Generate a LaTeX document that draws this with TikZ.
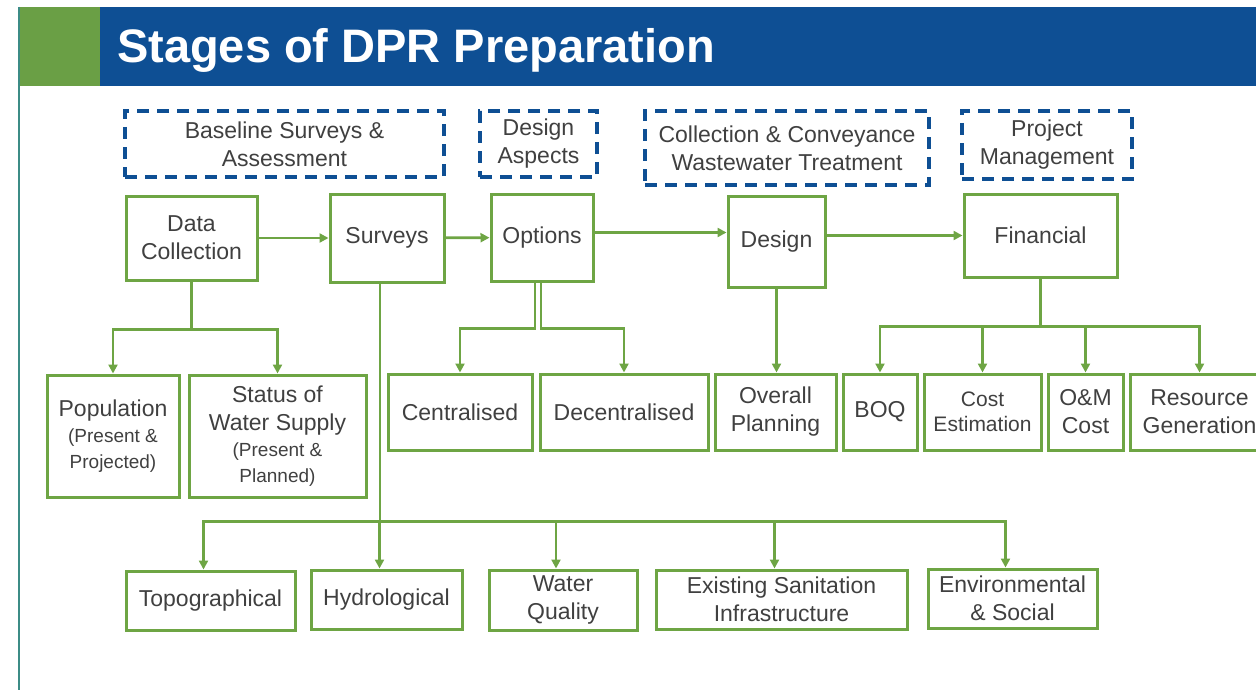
\documentclass[tikz,border=0pt]{standalone}
\usepackage{fontspec}
\setmainfont{Liberation Sans}
\usetikzlibrary{positioning, arrows.meta, calc}
\definecolor{headblue}{HTML}{0E4F94}
\definecolor{headgreen}{HTML}{6A9F45}
\definecolor{boxgreen}{HTML}{6EA544}
\definecolor{textgray}{HTML}{404040}
\definecolor{edgeteal}{HTML}{3C8C86}
\newcommand{\subtxt}[1]{{\fontsize{9.5}{11.5}\selectfont #1}}

\begin{document}
\begin{tikzpicture}[
  x=0.5pt, y=-0.5pt,
  every node/.style={font=\fontsize{11.5}{14}\selectfont, text=textgray},
  >={Triangle[length=4.5pt, width=4.5pt]},
  box/.style={
    draw=boxgreen, line width=1.5pt,
    inner sep=2pt, align=center
  },
  stage/.style={
    draw=headblue, line width=2pt, dash pattern=on 6pt off 4pt,
    inner sep=2pt, align=center
  },
  arrow/.style={->, line width=1.4pt, draw=boxgreen},
  wire/.style={line width=1.4pt, draw=boxgreen}
]
\useasboundingbox (0,0) rectangle (1256,690);

% Header
\fill[headgreen] (19,7) rectangle (100,86);
\fill[headblue] (100,7) rectangle (1256,86);
\draw[edgeteal, line width=0.6pt] (19,7) -- (19,690);
\node[anchor=base west, font=\fontsize{23.5}{27}\selectfont\bfseries, text=white] (title) at (110,63) {Stages of DPR Preparation};

% Stage labels
\node[stage, minimum width=159.5pt, minimum height=33pt] (baseline) at (284.5,144) {Baseline Surveys \&\\Assessment};
\node[stage, minimum width=58.5pt, minimum height=33pt] (aspects) at (538.5,144) {Design\\Aspects};
\node[stage, minimum width=142pt, minimum height=37pt] (convey) at (787,148) {Collection \& Conveyance\\Wastewater Treatment};
\node[stage, minimum width=85pt, minimum height=34pt] (pm) at (1047,145) {Project\\Management};

% Main steps
\node[box, minimum width=65.5pt, minimum height=42pt] (data) at (191.5,238) {Data\\Collection};
\node[box, minimum width=57pt, minimum height=44pt] (surveys) at (387,238) {Surveys};
\node[box, minimum width=51pt, minimum height=43.5pt] (options) at (542,237.5) {Options};
\node[box, minimum width=48.5pt, minimum height=45.5pt] (design) at (776.5,241.5) {Design};
\node[box, minimum width=76.5pt, minimum height=41.5pt] (financial) at (1040.5,235.5) {Financial};

% Second row
\node[box, minimum width=66pt, minimum height=61pt] (population) at (113,436) {Population\\[-1pt]\subtxt{(Present \&}\\[-1pt]\subtxt{Projected)}};
\node[box, minimum width=88.5pt, minimum height=61pt] (status) at (277.5,436) {Status of\\Water Supply\\[-1pt]\subtxt{(Present \&}\\[-1pt]\subtxt{Planned)}};
\node[box, minimum width=72pt, minimum height=38pt] (central) at (460,412) {Centralised};
\node[box, minimum width=84pt, minimum height=38pt] (decentral) at (624,412) {Decentralised};
\node[box, minimum width=60.5pt, minimum height=38pt] (overall) at (775.5,412) {Overall\\Planning};
\node[box, minimum width=37pt, minimum height=38pt] (boq) at (880,412) {BOQ};
\node[box, minimum width=58.5pt, minimum height=38pt, font=\fontsize{10.5}{12.5}\selectfont] (cost) at (982.5,412) {Cost\\Estimation};
\node[box, minimum width=37.5pt, minimum height=38pt] (om) at (1085.5,412) {O\&M\\Cost};
\node[box, minimum width=69pt, minimum height=38pt] (resource) at (1199.5,412) {Resource\\Generation};

% Survey types
\node[box, minimum width=84.5pt, minimum height=29.5pt] (topo) at (210.5,600.5) {Topographical};
\node[box, minimum width=75.5pt, minimum height=29.5pt] (hydro) at (386.5,599.5) {Hydrological};
\node[box, minimum width=74pt, minimum height=30pt] (water) at (563,600) {Water\\Quality};
\node[box, minimum width=125.5pt, minimum height=29.5pt] (sanitation) at (781.5,599.5) {Existing Sanitation\\Infrastructure};
\node[box, minimum width=84.5pt, minimum height=29.5pt] (envsocial) at (1012.5,598.5) {Environmental\\\& Social};

% Main flow
\draw[arrow] (data) -- (surveys);
\draw[arrow] (surveys) -- (options);
\draw[arrow] ([yshift=2.5pt]options.east) -- ([yshift=2.5pt]options.east -| design.west);
\draw[arrow] (design.east |- financial) -- (financial.west);

% Data collection branches
\coordinate (databus) at ($(data.south)+(0,48)$);
\draw[wire] (data.south) -- (databus);
\foreach \n in {population,status} \draw[arrow] (databus) -| (\n.north);

% Options branches
\draw[arrow] ([xshift=-3.5pt]options.south) -- ++(0,46) -| (central.north);
\draw[arrow] ([xshift=-0.5pt]options.south) -- ++(0,46) -| (decentral.north);

% Design
\draw[arrow] (design) -- (design |- overall.north);

% Financial branches
\coordinate (finbus) at ($(financial.south)+(0,48)$);
\draw[wire] (financial.south) -- (finbus);
\foreach \n in {boq,cost,om,resource} \draw[arrow] (finbus) -| (\n.north);

% Survey branches
\coordinate (survbus) at ($([xshift=-3.5pt]surveys.south)+(0,238)$);
\draw[wire] ([xshift=-3.5pt]surveys.south) -- (survbus);
\foreach \n in {topo,hydro,water,sanitation,envsocial} \draw[arrow] (survbus) -| ([xshift=-3.5pt]\n.north);

\end{tikzpicture}
\end{document}
